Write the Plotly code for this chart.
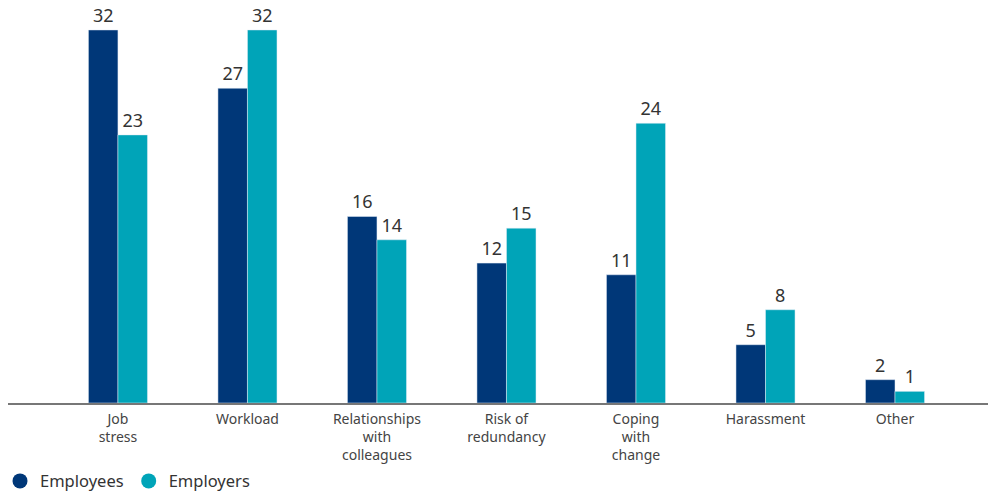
import plotly.graph_objects as go

categories = ["Job<br>stress", "Workload", "Relationships<br>with<br>colleagues",
              "Risk of<br>redundancy", "Coping<br>with<br>change", "Harassment", "Other"]
employees = [32, 27, 16, 12, 11, 5, 2]
employers = [23, 32, 14, 15, 24, 8, 1]

navy = "#003778"
teal = "#00A4B8"
font_family = "Noto Sans, Open Sans, sans-serif"

fig = go.Figure()
fig.add_trace(go.Bar(x=categories, y=employees, marker_color=navy, name="Employees",
                     text=employees, textposition="outside", cliponaxis=False,
                     textfont=dict(size=18, color="#333333"), showlegend=False))
fig.add_trace(go.Bar(x=categories, y=employers, marker_color=teal, name="Employers",
                     text=employers, textposition="outside", cliponaxis=False,
                     textfont=dict(size=18, color="#333333"), showlegend=False))

# circular legend markers
for name, col in [("Employees", navy), ("Employers", teal)]:
    fig.add_trace(go.Scatter(x=[None], y=[None], mode="markers", name=name,
                             marker=dict(color=col, size=15, symbol="circle")))

fig.update_layout(
    width=988, height=492,
    margin=dict(l=0, r=0, t=0, b=89, autoexpand=False),
    paper_bgcolor="white", plot_bgcolor="white",
    barmode="group", bargap=0.544, bargroupgap=0,
    font=dict(family=font_family, color="#444444"),
    legend=dict(orientation="h", x=-0.002, y=0.022, xref="container", yref="container",
                xanchor="left", yanchor="middle",
                font=dict(size=16.5, color="#333333"), itemwidth=30,
                tracegroupgap=0, itemclick=False),
)
fig.update_xaxes(domain=[8 / 988, 1], range=[-0.849, 6.718], showline=True,
                 linecolor="#777777", linewidth=1.5, ticks="", ticklabelstandoff=2,
                 tickfont=dict(size=14, color="#444444"), showgrid=False,
                 automargin=False, fixedrange=True)
fig.update_yaxes(range=[0, 34.57], visible=False, showgrid=False, zeroline=False,
                 automargin=False, fixedrange=True)

fig.write_html("out.html")
